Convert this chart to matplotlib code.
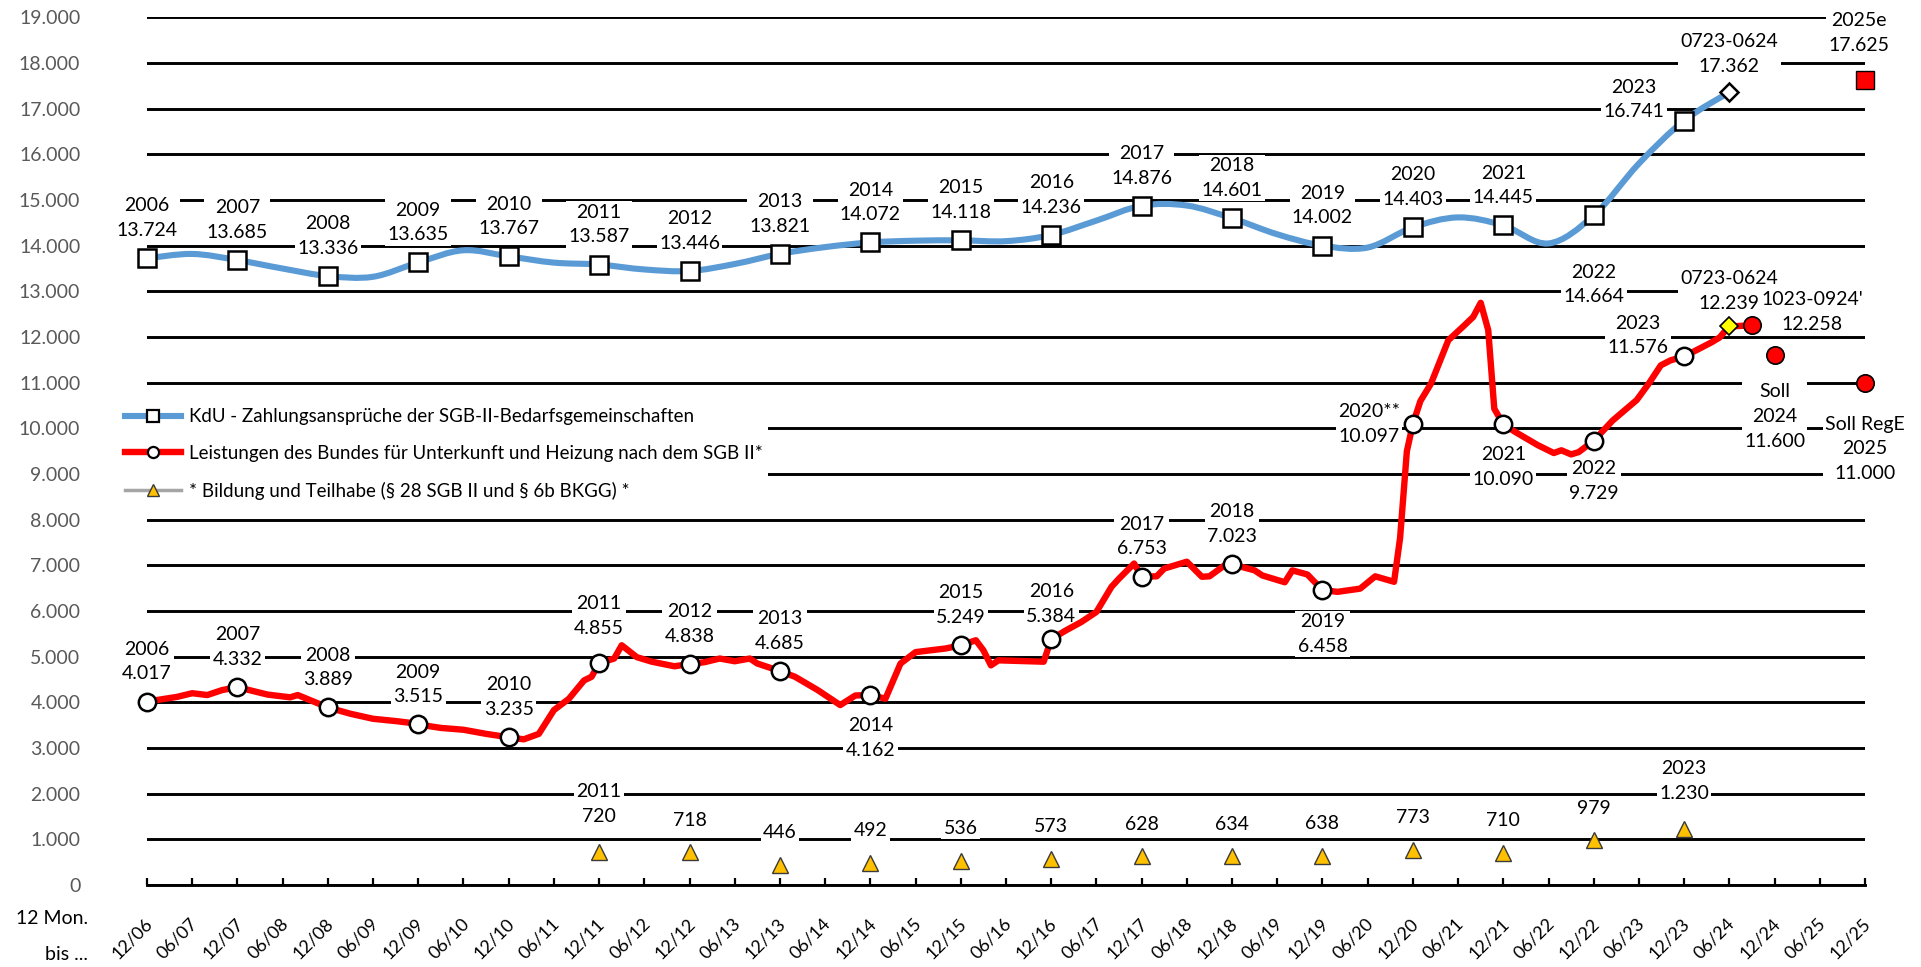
import matplotlib
matplotlib.use("Agg")
import matplotlib.pyplot as plt
import matplotlib.transforms as mtransforms
from matplotlib.lines import Line2D
from matplotlib.path import Path
from matplotlib.patches import PathPatch

plt.rcParams['font.family'] = ['Lato', 'DejaVu Sans']

# x axis: months after 12/2006, ticks every half year up to 12/2025
tick_months = list(range(0, 229, 6))
tick_labels = [("12" if m % 12 == 0 else "06") + "/%02d" % ((2006 + (m + 6) // 12) % 100)
               for m in tick_months]

years = list(range(2006, 2024))
year_months = [12 * (y - 2006) for y in years]

# KdU - Zahlungsansprueche (annual values, Dec)
kdu = [13724, 13685, 13336, 13635, 13767, 13587, 13446, 13821, 14072,
       14118, 14236, 14876, 14601, 14002, 14403, 14445, 14664, 16741]
kdu_0624 = 17362
kdu_2025e = 17625
# half-year trace of the blue line
kdu_trace_m = [0, 6, 12, 18, 24, 30, 36, 42, 48, 54, 60, 66, 72, 78, 84, 90, 96,
               102, 108, 114, 120, 126, 132, 138, 144, 150, 156, 162, 168, 174,
               180, 186, 192, 198, 204, 210]
kdu_trace_v = [13724, 13820, 13685, 13500, 13336, 13320, 13635, 13900, 13767,
               13630, 13587, 13480, 13446, 13600, 13821, 13970, 14072, 14110,
               14118, 14100, 14236, 14550, 14876, 14880, 14601, 14250, 14002,
               13960, 14403, 14620, 14445, 14050, 14664, 15800, 16741, 17362]

# Leistungen des Bundes fuer Unterkunft und Heizung (annual values, Dec)
bund = [4017, 4332, 3889, 3515, 3235, 4855, 4838, 4685, 4162, 5249, 5384,
        6753, 7023, 6458, 10097, 10090, 9729, 11576]
bund_0624 = 12239
bund_0924 = 12258
soll_2024 = 11600
soll_2025 = 11000
bund_trace_m = [0, 4, 6, 8, 10, 12, 16, 19, 20, 24, 27, 30, 33, 35, 36, 39, 42,
                45, 48, 50, 52, 54, 56, 58, 59, 60, 62, 63, 65, 67, 70, 72, 74,
                76, 78, 80, 81, 84, 86, 89, 92, 94, 96, 98, 100, 102, 106, 108,
                110, 111, 112, 113, 119, 120, 122, 124, 126, 128, 129, 131, 132,
                134, 135, 138, 140, 141, 143, 144, 147, 148, 151, 152, 154, 156,
                158, 161, 163, 165.5, 166.3, 167.2, 168, 169, 170.4, 172.7,
                174.6, 176, 177, 178, 178.8, 180, 181.6, 184.6, 186.7, 187.7,
                189, 190, 192, 194.5, 197.7, 199.3, 200.9, 202.2, 204, 205.6,
                207.7, 208.7, 210, 211, 213]
bund_trace_v = [4017, 4120, 4200, 4160, 4270, 4332, 4170, 4110, 4160, 3889,
                3750, 3640, 3590, 3550, 3515, 3440, 3400, 3310, 3235, 3190,
                3310, 3830, 4080, 4480, 4560, 4855, 4960, 5250, 4990, 4890,
                4790, 4838, 4880, 4960, 4900, 4960, 4850, 4685, 4560, 4270,
                3940, 4150, 4162, 4080, 4850, 5100, 5180, 5249, 5360, 5140,
                4810, 4920, 4890, 5384, 5580, 5760, 5980, 6530, 6710, 7040,
                6753, 6760, 6930, 7080, 6750, 6760, 7000, 7023, 6890, 6780,
                6630, 6890, 6800, 6458, 6420, 6490, 6760, 6640, 7600, 9500,
                10097, 10600, 10980, 11930, 12220, 12440, 12750, 12150, 10430,
                10090, 9920, 9630, 9460, 9520, 9430, 9480, 9729, 10170, 10620,
                10980, 11380, 11490, 11576, 11710, 11890, 11990, 12239, 12240,
                12258]

# Bildung und Teilhabe
but_years = list(range(2011, 2024))
but = [720, 718, 446, 492, 536, 573, 628, 634, 638, 773, 710, 979, 1230]

BLUE = "#5B9BD5"
RED = "#FF0000"
GOLD = "#FFC000"


def de(v):
    return f"{v:,}".replace(",", ".")


def smooth_path(xs, ys):
    verts = [(xs[0], ys[0])]
    codes = [Path.MOVETO]
    n = len(xs)
    for i in range(n - 1):
        xa, ya = (xs[i - 1], ys[i - 1]) if i > 0 else (xs[i], ys[i])
        xd, yd = (xs[i + 2], ys[i + 2]) if i < n - 2 else (xs[i + 1], ys[i + 1])
        c1 = (xs[i] + (xs[i + 1] - xa) / 6, ys[i] + (ys[i + 1] - ya) / 6)
        c2 = (xs[i + 1] - (xd - xs[i]) / 6, ys[i + 1] - (yd - ys[i]) / 6)
        verts += [c1, c2, (xs[i + 1], ys[i + 1])]
        codes += [Path.CURVE4] * 3
    return Path(verts, codes)


fig = plt.figure(figsize=(19.21, 9.67), dpi=100)
ax = fig.add_axes([147 / 1921, 1 - 885 / 967, 1718 / 1921, 867.6 / 967])
ax.set_xlim(0, 228)
ax.set_ylim(0, 19000)

# grid
ax.set_yticks(range(0, 19001, 1000))
ax.set_yticklabels([de(v) for v in range(0, 19001, 1000)])
ax.yaxis.grid(True, color="black", lw=2.1, zorder=0.5)
ax.set_axisbelow(True)
for s in ["top", "right", "left"]:
    ax.spines[s].set_visible(False)
ax.spines["bottom"].set_linewidth(2.1)
ax.tick_params(axis="y", length=0, pad=48, labelsize=14, labelcolor="#595959")
ax.set_xticks(tick_months)
ax.set_xticklabels(tick_labels)
ax.tick_params(axis="x", direction="in", length=5, width=1.6, pad=26, labelsize=13)
shift = mtransforms.ScaledTranslation(3 / 100, 0, fig.dpi_scale_trans)
for lab in ax.get_xticklabels():
    lab.set_rotation(45)
    lab.set_ha("right")
    lab.set_va("center")
    lab.set_rotation_mode("anchor")
    lab.set_transform(lab.get_transform() + shift)

# blue line
ax.add_patch(PathPatch(smooth_path(kdu_trace_m, kdu_trace_v), fill=False,
                       ec=BLUE, lw=4.4, capstyle="round", joinstyle="round", zorder=4))
ax.plot(year_months, kdu, ls="none", marker="s", ms=12.5, mfc="white", mec="black",
        mew=1.8, zorder=5, clip_on=False)
ax.plot([210], [kdu_0624], ls="none", marker="D", ms=9.5, mfc="white", mec="black",
        mew=1.8, zorder=5)
ax.plot([228], [kdu_2025e], ls="none", marker="s", ms=12.5, mfc=RED, mec="black",
        mew=1, zorder=5, clip_on=False)

# red line
ax.plot(bund_trace_m, bund_trace_v, color=RED, lw=4.6, solid_joinstyle="round",
        zorder=4)
ax.plot(year_months, bund, ls="none", marker="o", ms=12.5, mfc="white", mec="black",
        mew=1.8, zorder=5, clip_on=False)
ax.plot([210], [bund_0624], ls="none", marker="D", ms=9.5, mfc="#FFFF00", mec="black",
        mew=1.2, zorder=6)
ax.plot([213, 216, 228], [bund_0924, soll_2024, soll_2025], ls="none", marker="o",
        ms=12.5, mfc=RED, mec="black", mew=1.2, zorder=5, clip_on=False)

# triangles
but_months = [12 * (y - 2006) for y in but_years]
ax.plot(but_months, but, ls="none", marker="^", ms=11, mfc=GOLD, mec="#3a3a3a",
        mew=1, zorder=5)

lab_kw = dict(textcoords="offset pixels", ha="center", va="center", fontsize=14,
              linespacing=1.55, zorder=3, annotation_clip=False,
              bbox=dict(boxstyle="square,pad=0.12", fc="white", ec="none"))


def label(text, x, y, off):
    ax.annotate(text, (x, y), xytext=off, **lab_kw)


kdu_off = {2022: (0, -69), 2023: (-50, 21)}
for y, m, v in zip(years, year_months, kdu):
    label(f"{y}\n{de(v)}", m, v, kdu_off.get(y, (0, 40)))
label(f"0723-0624\n{de(kdu_0624)}", 210, kdu_0624, (0, 38))
label(f"2025e\n{de(kdu_2025e)}", 228, kdu_2025e, (-6, 47))

bund_off = {2011: (0, 47), 2014: (0, -43), 2016: (0, 35), 2019: (0, -44),
            2020: (-44, 0), 2021: (0, -43), 2022: (0, -40), 2023: (-46, 21)}
for y, m, v in zip(years, year_months, bund):
    name = "2020**" if y == 2020 else str(y)
    label(f"{name}\n{de(v)}", m, v, bund_off.get(y, (0, 40)))
label(f"0723-0624\n{de(bund_0624)}", 210, bund_0624, (0, 35))
label(f"1023-0924'\n{de(bund_0924)}", 213, bund_0924, (60, 13))
label(f"Soll\n2024\n{de(soll_2024)}", 216, soll_2024, (0, -61))
label(f"Soll RegE\n2025\n{de(soll_2025)}", 228, soll_2025, (0, -66))

for y, m, v in zip(but_years, but_months, but):
    if y in (2011, 2023):
        label(f"{y}\n{de(v)}", m, v, (0, 48))
    else:
        label(de(v), m, v, (0, 32))

# legend
handles = [
    Line2D([], [], color=BLUE, lw=4.4, marker="s", ms=8, mfc="white", mec="black", mew=1.6),
    Line2D([], [], color=RED, lw=4.6, marker="o", ms=8, mfc="white", mec="black", mew=1.6),
    Line2D([], [], color="#A5A5A5", lw=2.5, marker="^", ms=8, mfc=GOLD, mec="#3a3a3a", mew=1),
]
names = ["KdU - Zahlungsansprüche der SGB-II-Bedarfsgemeinschaften",
         "Leistungen des Bundes für Unterkunft und Heizung nach dem SGB II*",
         "* Bildung und Teilhabe (§ 28 SGB II und § 6b BKGG) *"]
leg = ax.legend(handles, names, loc="upper left", bbox_to_anchor=(-0.016, 0.556),
                frameon=True, fontsize=13.5, handlelength=3.0, handletextpad=0.4,
                labelspacing=1.05, borderpad=0.3, borderaxespad=0)
leg.get_frame().set_facecolor("white")
leg.get_frame().set_edgecolor("none")
leg.get_frame().set_alpha(1)

fig.text(88 / 1921, 1 - 919 / 967, "12 Mon.", ha="right", va="center", fontsize=14)
fig.text(88 / 1921, 1 - 955 / 967, "bis ...", ha="right", va="center", fontsize=14)

fig.savefig("out.png", dpi=100)
